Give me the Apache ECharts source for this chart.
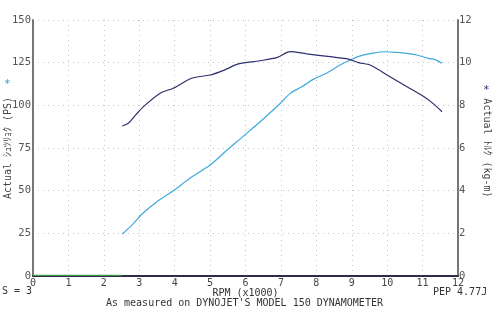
<!DOCTYPE html>
<html><head><meta charset="utf-8">
<script src="https://cdn.jsdelivr.net/npm/echarts@6/dist/echarts.min.js"></script>
<style>html,body{margin:0;padding:0;background:#fff}#c{width:501px;height:320px}</style>
</head><body><div id="c"></div>
<script>
// Power (PS) vs RPM (x1000)
const powerRpm = [2.52, 2.8, 3.11, 3.5, 3.95, 4.44, 5.0, 5.48, 6.0, 6.5, 7.0, 7.26, 7.6, 7.91, 8.3, 8.67, 9.0, 9.24, 9.6, 9.94, 10.27, 10.6, 10.84, 11.16, 11.35, 11.55];
const powerPS  = [24.6, 30.0, 36.9, 43.5, 49.8, 57.4, 65.0, 73.8, 83.0, 92.0, 101.5, 107.0, 111.0, 115.2, 119.0, 123.6, 127.0, 129.0, 130.6, 131.4, 131.0, 130.3, 129.5, 127.5, 126.8, 124.6];
// Torque (kg-m) vs RPM (x1000)
const torqueRpm = [2.52, 2.69, 2.9, 3.12, 3.59, 3.96, 4.48, 5.0, 5.4, 5.8, 6.41, 6.9, 7.26, 7.73, 8.39, 8.91, 9.19, 9.52, 10.08, 10.56, 11.03, 11.3, 11.55];
const torqueKgm = [7.03, 7.16, 7.55, 7.94, 8.57, 8.80, 9.27, 9.42, 9.65, 9.94, 10.09, 10.25, 10.52, 10.41, 10.28, 10.17, 10.0, 9.89, 9.34, 8.87, 8.41, 8.08, 7.70];
// baseline trace
const baseRpm = [0, 2.5];
const baseVal = [0.4, 0.4];
// ticks
const xTicks = {min: 0, max: 12, interval: 1};
const psTicks = {min: 0, max: 150, interval: 25};
const tqTicks = {min: 0, max: 12, interval: 2};

const zip = (a, b) => a.map((v, i) => [v, b[i]]);
const font = '"DejaVu Sans Mono", "Noto Sans CJK JP", monospace';
const chart = echarts.init(document.getElementById('c'), null, {renderer: 'canvas'});
chart.setOption({
  animation: false,
  grid: {left: 33, right: 43, top: 20, bottom: 44, containLabel: false, outerBoundsMode: 'none'},
  xAxis: {
    type: 'value', min: xTicks.min, max: xTicks.max, interval: xTicks.interval,
    name: 'RPM (x1000)', nameLocation: 'middle', nameGap: 12, nameMoveOverlap: false,
    nameTextStyle: {fontFamily: font, fontSize: 10, color: '#333'},
    axisLine: {lineStyle: {color: '#2c2c44', width: 2}},
    axisTick: {show: false},
    axisLabel: {fontFamily: font, fontSize: 10, color: '#444', margin: 2},
    splitLine: {show: true, lineStyle: {type: [1, 4], color: '#c4c4c4'}}
  },
  yAxis: [{
    type: 'value', min: psTicks.min, max: psTicks.max, interval: psTicks.interval,
    name: 'Actual ｼｭﾂﾘｮｸ (PS)', nameLocation: 'middle', nameGap: 20, nameRotate: 90, nameMoveOverlap: false,
    nameTextStyle: {fontFamily: font, fontSize: 10, color: '#444'},
    axisLine: {show: true, lineStyle: {color: '#777', width: 2}},
    axisTick: {show: false},
    axisLabel: {fontFamily: font, fontSize: 10.5, color: '#555', margin: 2},
    splitLine: {show: true, lineStyle: {type: [1, 4], color: '#c4c4c4'}}
  }, {
    type: 'value', min: tqTicks.min, max: tqTicks.max, interval: tqTicks.interval,
    position: 'right',
    name: 'Actual ﾄﾙｸ (kg-m)', nameLocation: 'middle', nameGap: 24, nameRotate: -90, nameMoveOverlap: false,
    nameTextStyle: {fontFamily: font, fontSize: 10, color: '#444'},
    axisLine: {show: true, lineStyle: {color: '#777', width: 2}},
    axisTick: {show: false},
    axisLabel: {fontFamily: font, fontSize: 10.5, color: '#555', margin: 1},
    splitLine: {show: false}
  }],
  series: [{
    type: 'line', name: 'base', data: zip(baseRpm, baseVal), showSymbol: false,
    lineStyle: {color: '#3c9a4a', width: 1.2}
  }, {
    type: 'line', name: 'Power', data: zip(powerRpm, powerPS), smooth: 0.3, showSymbol: false,
    lineStyle: {color: '#3fa9dc', width: 1.2}
  }, {
    type: 'line', name: 'Torque', yAxisIndex: 1, data: zip(torqueRpm, torqueKgm), smooth: 0.3, showSymbol: false,
    lineStyle: {color: '#2e2f6e', width: 1.2}
  }],
  graphic: [
    {type: 'text', left: 4, top: 79, style: {text: '*', fill: '#2a9ee0', font: '11px ' + font}},
    {type: 'text', left: 483, top: 85, style: {text: '*', fill: '#2e2f6e', font: '11px ' + font}},
    {type: 'text', left: 2, top: 286, style: {text: 'S = 3', fill: '#333', font: '10px ' + font}},
    {type: 'text', left: 433, top: 287, style: {text: 'PEP 4.77J', fill: '#333', font: '10px ' + font}},
    {type: 'text', left: 106, top: 298, style: {text: "As measured on DYNOJET'S MODEL 150 DYNAMOMETER", fill: '#333', font: '10px ' + font}}
  ]
});
</script></body></html>
